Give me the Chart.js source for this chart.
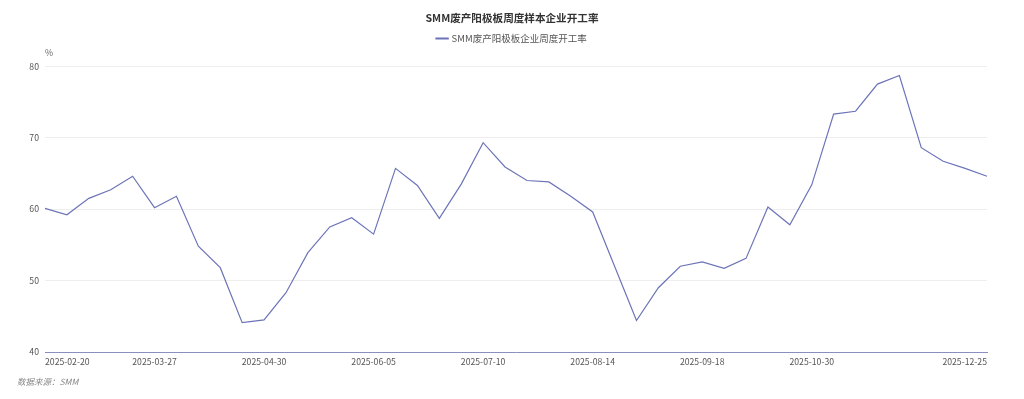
<!DOCTYPE html>
<html lang="zh">
<head>
<meta charset="UTF-8">
<title>SMM废产阳极板周度样本企业开工率</title>
<script src="https://cdn.jsdelivr.net/npm/chart.js@4"></script>
<style>
    html, body { margin: 0; padding: 0; background: #fff; }
    #wrap { position: relative; width: 1024px; height: 399px; }
</style>
</head>
<body>
<div id="wrap"><canvas id="rateChart"></canvas></div>
<script>
// weekly dates (2025)
var dates = [
    '2025-02-20', '2025-02-27', '2025-03-06', '2025-03-13', '2025-03-20',
    '2025-03-27', '2025-04-03', '2025-04-10', '2025-04-17', '2025-04-24',
    '2025-04-30', '2025-05-08', '2025-05-15', '2025-05-22', '2025-05-29',
    '2025-06-05', '2025-06-12', '2025-06-19', '2025-06-26', '2025-07-03',
    '2025-07-10', '2025-07-17', '2025-07-24', '2025-07-31', '2025-08-07',
    '2025-08-14', '2025-08-21', '2025-08-28', '2025-09-04', '2025-09-11',
    '2025-09-18', '2025-09-25', '2025-10-09', '2025-10-16', '2025-10-23',
    '2025-10-30', '2025-11-06', '2025-11-13', '2025-11-20', '2025-11-27',
    '2025-12-04', '2025-12-11', '2025-12-18', '2025-12-25'
];

// operating rate, %
var rates = [
    60.1, 59.2, 61.5, 62.7, 64.6, 60.2, 61.8, 54.8, 51.8, 44.1,
    44.5, 48.3, 53.9, 57.5, 58.8, 56.5, 65.7, 63.3, 58.7, 63.5,
    69.3, 65.9, 64.0, 63.8, 61.8, 59.6, 52.0, 44.4, 49.0, 52.0,
    52.6, 51.7, 53.1, 60.3, 57.8, 63.4, 73.3, 73.7, 77.5, 78.7,
    68.6, 66.7, 65.7, 64.6
];

// which x labels are printed
var shownTicks = [0, 5, 10, 15, 20, 25, 30, 35, 43];
var yTicks = [40, 50, 60, 70, 80];

var FONT = "'Noto Sans CJK SC', 'Noto Sans', sans-serif";
var lineColor = '#6c74b8';

// extra room under the legend
var legendGap = {
    id: 'legendGap',
    beforeInit: function (chart) {
        var fit = chart.legend.fit;
        chart.legend.fit = function () {
            fit.bind(chart.legend)();
            this.height += 13;
        };
    }
};

// "%" unit above the y axis and the source note
var extraText = {
    id: 'extraText',
    afterDraw: function (chart) {
        var ctx = chart.ctx;
        var area = chart.chartArea;
        ctx.save();
        ctx.fillStyle = '#666';
        ctx.font = '8.7px ' + FONT;
        ctx.textAlign = 'left';
        ctx.textBaseline = 'middle';
        ctx.fillText('%', area.left, 53);
        ctx.fillStyle = '#888';
        ctx.font = 'italic 8.5px ' + FONT;
        ctx.fillText('数据来源：SMM', 17, 382);
        ctx.restore();
    }
};

var ctx = document.getElementById('rateChart').getContext('2d');
var rateChart = new Chart(ctx, {
    type: 'line',
    data: {
        labels: dates,
        datasets: [{
            label: 'SMM废产阳极板企业周度开工率',
            data: rates,
            borderColor: lineColor,
            backgroundColor: lineColor,
            borderWidth: 1.2,
            pointRadius: 0,
            pointHoverRadius: 0,
            tension: 0,
            fill: false
        }]
    },
    options: {
        responsive: true,
        maintainAspectRatio: false,
        animation: false,
        layout: {
            padding: { top: 7, right: 0, left: 0, bottom: 0 }
        },
        plugins: {
            title: {
                display: true,
                text: 'SMM废产阳极板周度样本企业开工率',
                color: '#333',
                font: { family: FONT, size: 10.6, weight: 'bold' },
                padding: { top: 5, bottom: 5 }
            },
            legend: {
                display: true,
                labels: {
                    color: '#555',
                    font: { family: FONT, size: 9.5 },
                    usePointStyle: true,
                    pointStyle: 'line',
                    boxWidth: 13,
                    boxHeight: 10,
                    padding: 4,
                    generateLabels: function (chart) {
                        var items = Chart.defaults.plugins.legend.labels.generateLabels(chart);
                        items.forEach(function (item) { item.lineWidth = 2; });
                        return items;
                    }
                }
            },
            tooltip: { enabled: false }
        },
        scales: {
            x: {
                offset: false,
                grid: { display: false, drawTicks: false },
                border: { display: true, color: '#8a90bd', width: 1 },
                ticks: {
                    autoSkip: false,
                    maxRotation: 0,
                    align: 'inner',
                    padding: 4,
                    color: '#555',
                    font: { family: FONT, size: 8.7 },
                    callback: function (value, index) {
                        return shownTicks.indexOf(index) >= 0 ? dates[index] : '';
                    }
                },
                afterFit: function (scale) { scale.height = 47; }
            },
            y: {
                min: 40,
                max: 80,
                afterBuildTicks: function (scale) {
                    scale.ticks = yTicks.map(function (v) { return { value: v }; });
                },
                grid: { color: '#eeeeee', drawTicks: false },
                border: { display: false },
                ticks: {
                    padding: 6,
                    color: '#555',
                    font: { family: FONT, size: 8.7 }
                },
                afterFit: function (scale) { scale.width = 45; }
            },
            // empty right-hand axis keeps the plot clear of the right edge
            yRight: {
                position: 'right',
                min: 40,
                max: 80,
                grid: { display: false, drawTicks: false },
                border: { display: false },
                ticks: { display: false },
                afterFit: function (scale) { scale.width = 37; }
            }
        }
    },
    plugins: [legendGap, extraText]
});
</script>
</body>
</html>
